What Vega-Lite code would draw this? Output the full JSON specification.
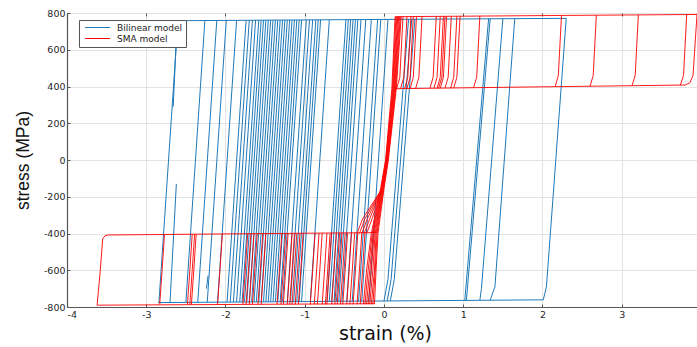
{
  "$schema": "https://vega.github.io/schema/vega-lite/v6.json",
  "width": 630,
  "height": 294,
  "autosize": {"type": "none"},
  "padding": {"left": 67, "top": 13, "right": 0, "bottom": 40},
  "background": "white",
  "config": {
    "font": "DejaVu Sans",
    "view": {"stroke": "#4d4d4d", "strokeWidth": 1},
    "axis": {
      "gridColor": "#e3e3e3",
      "gridWidth": 1,
      "domainColor": "#555555",
      "domainWidth": 1.2,
      "tickColor": "#555555",
      "tickSize": -3,
      "labelOverlap": false,
      "labelColor": "#262626",
      "labelFont": "DejaVu Sans",
      "labelFontSize": 9.5,
      "titleFontWeight": "normal",
      "titleColor": "#111111"
    }
  },
  "datasets": {
    "bilinear": [
      {"id":1,"k":0,"strain":-2.84,"stress":-776},{"id":1,"k":1,"strain":-2.60,"stress":758},
      {"id":2,"k":0,"strain":-2.70,"stress":-775},{"id":2,"k":1,"strain":-2.62,"stress":-130},
      {"id":3,"k":0,"strain":-2.66,"stress":290},{"id":3,"k":1,"strain":-2.61,"stress":758},
      {"id":4,"k":0,"strain":-2.50,"stress":-775},{"id":4,"k":1,"strain":-2.26,"stress":759},
      {"id":5,"k":0,"strain":-2.35,"stress":-774},{"id":5,"k":1,"strain":-2.11,"stress":759},
      {"id":6,"k":0,"strain":-2.23,"stress":-774},{"id":6,"k":1,"strain":-1.99,"stress":760},
      {"id":7,"k":0,"strain":-2.10,"stress":-773},{"id":7,"k":1,"strain":-1.86,"stress":760},
      {"id":8,"k":0,"strain":-1.98,"stress":-773},{"id":8,"k":1,"strain":-1.74,"stress":760},
      {"id":9,"k":0,"strain":-1.94,"stress":-773},{"id":9,"k":1,"strain":-1.70,"stress":760},
      {"id":10,"k":0,"strain":-1.90,"stress":-773},{"id":10,"k":1,"strain":-1.66,"stress":761},
      {"id":11,"k":0,"strain":-1.86,"stress":-773},{"id":11,"k":1,"strain":-1.62,"stress":761},
      {"id":12,"k":0,"strain":-1.82,"stress":-773},{"id":12,"k":1,"strain":-1.58,"stress":761},
      {"id":13,"k":0,"strain":-1.79,"stress":-772},{"id":13,"k":1,"strain":-1.55,"stress":761},
      {"id":14,"k":0,"strain":-1.76,"stress":-772},{"id":14,"k":1,"strain":-1.52,"stress":761},
      {"id":15,"k":0,"strain":-1.73,"stress":-772},{"id":15,"k":1,"strain":-1.49,"stress":761},
      {"id":16,"k":0,"strain":-1.70,"stress":-772},{"id":16,"k":1,"strain":-1.46,"stress":761},
      {"id":17,"k":0,"strain":-1.67,"stress":-772},{"id":17,"k":1,"strain":-1.43,"stress":761},
      {"id":18,"k":0,"strain":-1.64,"stress":-772},{"id":18,"k":1,"strain":-1.40,"stress":761},
      {"id":19,"k":0,"strain":-1.61,"stress":-772},{"id":19,"k":1,"strain":-1.37,"stress":761},
      {"id":20,"k":0,"strain":-1.58,"stress":-772},{"id":20,"k":1,"strain":-1.34,"stress":761},
      {"id":21,"k":0,"strain":-1.55,"stress":-772},{"id":21,"k":1,"strain":-1.31,"stress":761},
      {"id":22,"k":0,"strain":-1.52,"stress":-772},{"id":22,"k":1,"strain":-1.28,"stress":761},
      {"id":23,"k":0,"strain":-1.49,"stress":-772},{"id":23,"k":1,"strain":-1.25,"stress":762},
      {"id":24,"k":0,"strain":-1.46,"stress":-772},{"id":24,"k":1,"strain":-1.22,"stress":762},
      {"id":25,"k":0,"strain":-1.43,"stress":-771},{"id":25,"k":1,"strain":-1.19,"stress":762},
      {"id":26,"k":0,"strain":-1.40,"stress":-771},{"id":26,"k":1,"strain":-1.16,"stress":762},
      {"id":27,"k":0,"strain":-1.37,"stress":-771},{"id":27,"k":1,"strain":-1.13,"stress":762},
      {"id":28,"k":0,"strain":-1.34,"stress":-771},{"id":28,"k":1,"strain":-1.10,"stress":762},
      {"id":29,"k":0,"strain":-1.31,"stress":-771},{"id":29,"k":1,"strain":-1.07,"stress":762},
      {"id":30,"k":0,"strain":-1.28,"stress":-771},{"id":30,"k":1,"strain":-1.04,"stress":762},
      {"id":31,"k":0,"strain":-1.22,"stress":-771},{"id":31,"k":1,"strain":-0.98,"stress":762},
      {"id":32,"k":0,"strain":-1.18,"stress":-771},{"id":32,"k":1,"strain":-0.94,"stress":762},
      {"id":33,"k":0,"strain":-1.14,"stress":-771},{"id":33,"k":1,"strain":-0.90,"stress":762},
      {"id":34,"k":0,"strain":-1.10,"stress":-770},{"id":34,"k":1,"strain":-0.86,"stress":763},
      {"id":35,"k":0,"strain":-1.07,"stress":-770},{"id":35,"k":1,"strain":-0.83,"stress":763},
      {"id":36,"k":0,"strain":-1.04,"stress":-770},{"id":36,"k":1,"strain":-0.80,"stress":763},
      {"id":37,"k":0,"strain":-0.93,"stress":-770},{"id":37,"k":1,"strain":-0.69,"stress":763},
      {"id":38,"k":0,"strain":-0.72,"stress":-769},{"id":38,"k":1,"strain":-0.48,"stress":764},
      {"id":39,"k":0,"strain":-0.69,"stress":-769},{"id":39,"k":1,"strain":-0.45,"stress":764},
      {"id":40,"k":0,"strain":-0.66,"stress":-769},{"id":40,"k":1,"strain":-0.42,"stress":764},
      {"id":41,"k":0,"strain":-0.63,"stress":-769},{"id":41,"k":1,"strain":-0.39,"stress":764},
      {"id":42,"k":0,"strain":-0.60,"stress":-769},{"id":42,"k":1,"strain":-0.36,"stress":764},
      {"id":43,"k":0,"strain":-0.57,"stress":-769},{"id":43,"k":1,"strain":-0.33,"stress":764},
      {"id":44,"k":0,"strain":-0.53,"stress":-769},{"id":44,"k":1,"strain":-0.29,"stress":764},
      {"id":45,"k":0,"strain":-0.47,"stress":-768},{"id":45,"k":1,"strain":-0.23,"stress":764},
      {"id":46,"k":0,"strain":-0.40,"stress":-768},{"id":46,"k":1,"strain":-0.16,"stress":764},
      {"id":47,"k":0,"strain":-0.32,"stress":-768},{"id":47,"k":1,"strain":-0.08,"stress":765},
      {"id":48,"k":0,"strain":-0.28,"stress":-768},{"id":48,"k":1,"strain":-0.04,"stress":765},
      {"id":49,"k":0,"strain":-0.19,"stress":-768},{"id":49,"k":1,"strain":0.05,"stress":765},
      {"id":50,"k":0,"strain":0.00,"stress":-767},{"id":50,"k":1,"strain":0.05,"stress":-650},{"id":50,"k":2,"strain":0.31,"stress":766},
      {"id":51,"k":0,"strain":0.04,"stress":-767},{"id":51,"k":1,"strain":0.09,"stress":-650},{"id":51,"k":2,"strain":0.35,"stress":766},
      {"id":52,"k":0,"strain":0.08,"stress":-767},{"id":52,"k":1,"strain":0.13,"stress":-650},{"id":52,"k":2,"strain":0.39,"stress":766},
      {"id":53,"k":0,"strain":1.02,"stress":-764},{"id":53,"k":1,"strain":1.32,"stress":768},
      {"id":54,"k":0,"strain":1.04,"stress":-764},{"id":54,"k":1,"strain":1.34,"stress":769},
      {"id":55,"k":0,"strain":1.21,"stress":-763},{"id":55,"k":1,"strain":1.23,"stress":-700},{"id":55,"k":2,"strain":1.50,"stress":769},
      {"id":56,"k":0,"strain":1.34,"stress":-763},{"id":56,"k":1,"strain":1.40,"stress":-690},{"id":56,"k":2,"strain":1.65,"stress":769},
      {"id":57,"k":0,"strain":2.01,"stress":-761},{"id":57,"k":1,"strain":2.05,"stress":-690},{"id":57,"k":2,"strain":2.30,"stress":771},
      {"id":58,"k":0,"strain":-2.62,"stress":758},{"id":58,"k":1,"strain":2.30,"stress":771},
      {"id":59,"k":0,"strain":-2.85,"stress":-776},{"id":59,"k":1,"strain":2.01,"stress":-761},
      {"id":60,"k":0,"strain":-2.24,"stress":-700},{"id":60,"k":1,"strain":-2.22,"stress":-630}
    ],
    "sma": [
      {"id":1,"k":0,"strain":0.14,"stress":780},{"id":1,"k":1,"strain":3.95,"stress":792},
      {"id":2,"k":0,"strain":0.12,"stress":388},{"id":2,"k":1,"strain":3.80,"stress":408},
      {"id":3,"k":0,"strain":3.95,"stress":792},{"id":3,"k":1,"strain":3.90,"stress":460},{"id":3,"k":2,"strain":3.86,"stress":420},{"id":3,"k":3,"strain":3.80,"stress":408},
      {"id":4,"k":0,"strain":0.24,"stress":780},{"id":4,"k":1,"strain":0.20,"stress":450},{"id":4,"k":2,"strain":0.16,"stress":388},
      {"id":5,"k":0,"strain":0.29,"stress":780},{"id":5,"k":1,"strain":0.25,"stress":450},{"id":5,"k":2,"strain":0.21,"stress":389},
      {"id":6,"k":0,"strain":0.34,"stress":781},{"id":6,"k":1,"strain":0.30,"stress":450},{"id":6,"k":2,"strain":0.26,"stress":389},
      {"id":7,"k":0,"strain":0.37,"stress":781},{"id":7,"k":1,"strain":0.33,"stress":450},{"id":7,"k":2,"strain":0.29,"stress":389},
      {"id":8,"k":0,"strain":0.41,"stress":781},{"id":8,"k":1,"strain":0.37,"stress":450},{"id":8,"k":2,"strain":0.33,"stress":389},
      {"id":9,"k":0,"strain":0.48,"stress":781},{"id":9,"k":1,"strain":0.44,"stress":450},{"id":9,"k":2,"strain":0.40,"stress":390},
      {"id":10,"k":0,"strain":0.66,"stress":782},{"id":10,"k":1,"strain":0.62,"stress":450},{"id":10,"k":2,"strain":0.58,"stress":390},
      {"id":11,"k":0,"strain":0.71,"stress":782},{"id":11,"k":1,"strain":0.67,"stress":450},{"id":11,"k":2,"strain":0.63,"stress":390},
      {"id":12,"k":0,"strain":0.75,"stress":782},{"id":12,"k":1,"strain":0.71,"stress":450},{"id":12,"k":2,"strain":0.67,"stress":390},
      {"id":13,"k":0,"strain":0.77,"stress":782},{"id":13,"k":1,"strain":0.73,"stress":450},{"id":13,"k":2,"strain":0.69,"stress":391},
      {"id":14,"k":0,"strain":0.79,"stress":782},{"id":14,"k":1,"strain":0.75,"stress":450},{"id":14,"k":2,"strain":0.71,"stress":391},
      {"id":15,"k":0,"strain":0.85,"stress":782},{"id":15,"k":1,"strain":0.81,"stress":450},{"id":15,"k":2,"strain":0.77,"stress":391},
      {"id":16,"k":0,"strain":0.92,"stress":782},{"id":16,"k":1,"strain":0.88,"stress":450},{"id":16,"k":2,"strain":0.84,"stress":391},
      {"id":17,"k":0,"strain":0.96,"stress":783},{"id":17,"k":1,"strain":0.92,"stress":450},{"id":17,"k":2,"strain":0.88,"stress":392},
      {"id":18,"k":0,"strain":1.21,"stress":784},{"id":18,"k":1,"strain":1.17,"stress":450},{"id":18,"k":2,"strain":1.13,"stress":393},
      {"id":19,"k":0,"strain":2.24,"stress":787},{"id":19,"k":1,"strain":2.20,"stress":460},{"id":19,"k":2,"strain":2.16,"stress":399},
      {"id":20,"k":0,"strain":2.68,"stress":788},{"id":20,"k":1,"strain":2.64,"stress":460},{"id":20,"k":2,"strain":2.60,"stress":401},
      {"id":21,"k":0,"strain":3.21,"stress":790},{"id":21,"k":1,"strain":3.17,"stress":460},{"id":21,"k":2,"strain":3.13,"stress":404},
      {"id":22,"k":0,"strain":3.82,"stress":792},{"id":22,"k":1,"strain":3.78,"stress":460},{"id":22,"k":2,"strain":3.74,"stress":407},
      {"id":23,"k":0,"strain":-3.48,"stress":-408},{"id":23,"k":1,"strain":-0.08,"stress":-395},
      {"id":24,"k":0,"strain":-3.62,"stress":-790},{"id":24,"k":1,"strain":-0.12,"stress":-782},
      {"id":25,"k":0,"strain":-3.62,"stress":-790},{"id":25,"k":1,"strain":-3.58,"stress":-600},{"id":25,"k":2,"strain":-3.55,"stress":-430},{"id":25,"k":3,"strain":-3.52,"stress":-412},{"id":25,"k":4,"strain":-3.48,"stress":-408},
      {"id":26,"k":0,"strain":-0.26,"stress":-785},{"id":26,"k":1,"strain":-0.22,"stress":-600},{"id":26,"k":2,"strain":-0.160,"stress":-400},{"id":26,"k":3,"strain":-0.040,"stress":-150},{"id":26,"k":4,"strain":0.020,"stress":0},{"id":26,"k":5,"strain":0.100,"stress":390},{"id":26,"k":6,"strain":0.140,"stress":780},
      {"id":27,"k":0,"strain":-0.24,"stress":-785},{"id":27,"k":1,"strain":-0.20,"stress":-600},{"id":27,"k":2,"strain":-0.148,"stress":-400},{"id":27,"k":3,"strain":-0.034,"stress":-150},{"id":27,"k":4,"strain":0.025,"stress":0},{"id":27,"k":5,"strain":0.108,"stress":390},{"id":27,"k":6,"strain":0.151,"stress":780},
      {"id":28,"k":0,"strain":-0.22,"stress":-785},{"id":28,"k":1,"strain":-0.18,"stress":-600},{"id":28,"k":2,"strain":-0.136,"stress":-400},{"id":28,"k":3,"strain":-0.028,"stress":-150},{"id":28,"k":4,"strain":0.030,"stress":0},{"id":28,"k":5,"strain":0.116,"stress":390},{"id":28,"k":6,"strain":0.162,"stress":780},
      {"id":29,"k":0,"strain":-0.20,"stress":-785},{"id":29,"k":1,"strain":-0.16,"stress":-600},{"id":29,"k":2,"strain":-0.124,"stress":-400},{"id":29,"k":3,"strain":-0.022,"stress":-150},{"id":29,"k":4,"strain":0.035,"stress":0},{"id":29,"k":5,"strain":0.124,"stress":390},{"id":29,"k":6,"strain":0.173,"stress":780},
      {"id":30,"k":0,"strain":-0.18,"stress":-785},{"id":30,"k":1,"strain":-0.14,"stress":-600},{"id":30,"k":2,"strain":-0.112,"stress":-400},{"id":30,"k":3,"strain":-0.016,"stress":-150},{"id":30,"k":4,"strain":0.040,"stress":0},{"id":30,"k":5,"strain":0.132,"stress":390},{"id":30,"k":6,"strain":0.184,"stress":780},
      {"id":31,"k":0,"strain":-0.16,"stress":-785},{"id":31,"k":1,"strain":-0.12,"stress":-600},{"id":31,"k":2,"strain":-0.100,"stress":-400},{"id":31,"k":3,"strain":-0.010,"stress":-150},{"id":31,"k":4,"strain":0.045,"stress":0},{"id":31,"k":5,"strain":0.140,"stress":390},{"id":31,"k":6,"strain":0.195,"stress":780},
      {"id":32,"k":0,"strain":-0.14,"stress":-785},{"id":32,"k":1,"strain":-0.11,"stress":-600},{"id":32,"k":2,"strain":-0.088,"stress":-400},{"id":32,"k":3,"strain":-0.004,"stress":-150},{"id":32,"k":4,"strain":0.050,"stress":0},{"id":32,"k":5,"strain":0.148,"stress":390},{"id":32,"k":6,"strain":0.206,"stress":780},
      {"id":33,"k":0,"strain":-0.12,"stress":-785},{"id":33,"k":1,"strain":-0.10,"stress":-600},{"id":33,"k":2,"strain":-0.076,"stress":-400},{"id":33,"k":3,"strain":0.002,"stress":-150},{"id":33,"k":4,"strain":0.055,"stress":0},{"id":33,"k":5,"strain":0.156,"stress":390},{"id":33,"k":6,"strain":0.217,"stress":780},
      {"id":34,"k":0,"strain":-0.34,"stress":-400},{"id":34,"k":1,"strain":-0.27,"stress":-320},{"id":34,"k":2,"strain":-0.03,"stress":-160},
      {"id":35,"k":0,"strain":-0.31,"stress":-400},{"id":35,"k":1,"strain":-0.24,"stress":-320},{"id":35,"k":2,"strain":-0.03,"stress":-160},
      {"id":36,"k":0,"strain":-0.28,"stress":-400},{"id":36,"k":1,"strain":-0.21,"stress":-320},{"id":36,"k":2,"strain":-0.03,"stress":-160},
      {"id":37,"k":0,"strain":-0.25,"stress":-400},{"id":37,"k":1,"strain":-0.18,"stress":-320},{"id":37,"k":2,"strain":-0.03,"stress":-160},
      {"id":38,"k":0,"strain":-0.22,"stress":-400},{"id":38,"k":1,"strain":-0.15,"stress":-320},{"id":38,"k":2,"strain":-0.03,"stress":-160},
      {"id":39,"k":0,"strain":-2.83,"stress":-786},{"id":39,"k":1,"strain":-2.80,"stress":-600},{"id":39,"k":2,"strain":-2.77,"stress":-405},
      {"id":40,"k":0,"strain":-2.48,"stress":-786},{"id":40,"k":1,"strain":-2.45,"stress":-600},{"id":40,"k":2,"strain":-2.42,"stress":-404},
      {"id":41,"k":0,"strain":-2.45,"stress":-786},{"id":41,"k":1,"strain":-2.42,"stress":-600},{"id":41,"k":2,"strain":-2.39,"stress":-404},
      {"id":42,"k":0,"strain":-2.43,"stress":-786},{"id":42,"k":1,"strain":-2.40,"stress":-600},{"id":42,"k":2,"strain":-2.37,"stress":-404},
      {"id":43,"k":0,"strain":-2.10,"stress":-786},{"id":43,"k":1,"strain":-2.07,"stress":-600},{"id":43,"k":2,"strain":-2.04,"stress":-403},
      {"id":44,"k":0,"strain":-1.78,"stress":-786},{"id":44,"k":1,"strain":-1.75,"stress":-600},{"id":44,"k":2,"strain":-1.72,"stress":-402},
      {"id":45,"k":0,"strain":-1.74,"stress":-786},{"id":45,"k":1,"strain":-1.71,"stress":-600},{"id":45,"k":2,"strain":-1.68,"stress":-402},
      {"id":46,"k":0,"strain":-1.70,"stress":-786},{"id":46,"k":1,"strain":-1.67,"stress":-600},{"id":46,"k":2,"strain":-1.64,"stress":-402},
      {"id":47,"k":0,"strain":-1.66,"stress":-786},{"id":47,"k":1,"strain":-1.63,"stress":-600},{"id":47,"k":2,"strain":-1.60,"stress":-402},
      {"id":48,"k":0,"strain":-1.59,"stress":-786},{"id":48,"k":1,"strain":-1.56,"stress":-600},{"id":48,"k":2,"strain":-1.53,"stress":-401},
      {"id":49,"k":0,"strain":-1.55,"stress":-786},{"id":49,"k":1,"strain":-1.52,"stress":-600},{"id":49,"k":2,"strain":-1.49,"stress":-401},
      {"id":50,"k":0,"strain":-1.35,"stress":-786},{"id":50,"k":1,"strain":-1.32,"stress":-600},{"id":50,"k":2,"strain":-1.29,"stress":-400},
      {"id":51,"k":0,"strain":-1.30,"stress":-786},{"id":51,"k":1,"strain":-1.27,"stress":-600},{"id":51,"k":2,"strain":-1.24,"stress":-400},
      {"id":52,"k":0,"strain":-1.27,"stress":-786},{"id":52,"k":1,"strain":-1.24,"stress":-600},{"id":52,"k":2,"strain":-1.21,"stress":-400},
      {"id":53,"k":0,"strain":-1.22,"stress":-786},{"id":53,"k":1,"strain":-1.19,"stress":-600},{"id":53,"k":2,"strain":-1.16,"stress":-400},
      {"id":54,"k":0,"strain":-1.19,"stress":-786},{"id":54,"k":1,"strain":-1.16,"stress":-600},{"id":54,"k":2,"strain":-1.13,"stress":-400},
      {"id":55,"k":0,"strain":-1.16,"stress":-786},{"id":55,"k":1,"strain":-1.13,"stress":-600},{"id":55,"k":2,"strain":-1.10,"stress":-400},
      {"id":56,"k":0,"strain":-1.12,"stress":-786},{"id":56,"k":1,"strain":-1.09,"stress":-600},{"id":56,"k":2,"strain":-1.06,"stress":-399},
      {"id":57,"k":0,"strain":-1.08,"stress":-786},{"id":57,"k":1,"strain":-1.05,"stress":-600},{"id":57,"k":2,"strain":-1.02,"stress":-399},
      {"id":58,"k":0,"strain":-0.93,"stress":-786},{"id":58,"k":1,"strain":-0.90,"stress":-600},{"id":58,"k":2,"strain":-0.87,"stress":-399},
      {"id":59,"k":0,"strain":-0.88,"stress":-786},{"id":59,"k":1,"strain":-0.85,"stress":-600},{"id":59,"k":2,"strain":-0.82,"stress":-399},
      {"id":60,"k":0,"strain":-0.84,"stress":-786},{"id":60,"k":1,"strain":-0.81,"stress":-600},{"id":60,"k":2,"strain":-0.78,"stress":-398},
      {"id":61,"k":0,"strain":-0.78,"stress":-786},{"id":61,"k":1,"strain":-0.75,"stress":-600},{"id":61,"k":2,"strain":-0.72,"stress":-398},
      {"id":62,"k":0,"strain":-0.74,"stress":-786},{"id":62,"k":1,"strain":-0.71,"stress":-600},{"id":62,"k":2,"strain":-0.68,"stress":-398},
      {"id":63,"k":0,"strain":-0.72,"stress":-786},{"id":63,"k":1,"strain":-0.69,"stress":-600},{"id":63,"k":2,"strain":-0.66,"stress":-398},
      {"id":64,"k":0,"strain":-0.66,"stress":-786},{"id":64,"k":1,"strain":-0.63,"stress":-600},{"id":64,"k":2,"strain":-0.60,"stress":-398},
      {"id":65,"k":0,"strain":-0.62,"stress":-786},{"id":65,"k":1,"strain":-0.59,"stress":-600},{"id":65,"k":2,"strain":-0.56,"stress":-397},
      {"id":66,"k":0,"strain":-0.59,"stress":-786},{"id":66,"k":1,"strain":-0.56,"stress":-600},{"id":66,"k":2,"strain":-0.53,"stress":-397},
      {"id":67,"k":0,"strain":-0.55,"stress":-786},{"id":67,"k":1,"strain":-0.52,"stress":-600},{"id":67,"k":2,"strain":-0.49,"stress":-397},
      {"id":68,"k":0,"strain":-0.52,"stress":-786},{"id":68,"k":1,"strain":-0.49,"stress":-600},{"id":68,"k":2,"strain":-0.46,"stress":-397},
      {"id":69,"k":0,"strain":-0.47,"stress":-786},{"id":69,"k":1,"strain":-0.44,"stress":-600},{"id":69,"k":2,"strain":-0.41,"stress":-397},
      {"id":70,"k":0,"strain":-0.43,"stress":-786},{"id":70,"k":1,"strain":-0.40,"stress":-600},{"id":70,"k":2,"strain":-0.37,"stress":-396},
      {"id":71,"k":0,"strain":-0.39,"stress":-786},{"id":71,"k":1,"strain":-0.36,"stress":-600},{"id":71,"k":2,"strain":-0.33,"stress":-396},
      {"id":72,"k":0,"strain":-0.34,"stress":-786},{"id":72,"k":1,"strain":-0.31,"stress":-600},{"id":72,"k":2,"strain":-0.28,"stress":-396},
      {"id":73,"k":0,"strain":-0.30,"stress":-786},{"id":73,"k":1,"strain":-0.27,"stress":-600},{"id":73,"k":2,"strain":-0.24,"stress":-396}
    ]
  },
  "encoding": {
    "y": {
      "field": "stress", "type": "quantitative",
      "scale": {"domain": [-800, 800], "nice": false, "zero": false},
      "axis": {
        "values": [-800, -600, -400, -200, 0, 200, 400, 600, 800],
        "tickCount": 9,
        "labelExpr": "datum.value < 0 ? '-' + abs(datum.value) : '' + datum.value",
        "labelPadding": 5,
        "title": "stress (MPa)",
        "titleFontSize": 17.5,
        "titleFont": "Liberation Sans",
        "titleBaseline": "alphabetic",
        "titleAlign": "center",
        "titleX": -39,
        "titleY": 147
      }
    },
    "detail": {"field": "id", "type": "nominal"},
    "order": {"field": "k", "type": "quantitative"}
  },
  "resolve": {"axis": {"x": "independent"}},
  "layer": [
    {
      "data": {"name": "bilinear"},
      "mark": {"type": "line", "strokeWidth": 1, "clip": true},
      "encoding": {
        "x": {
          "field": "strain", "type": "quantitative",
          "scale": {"domain": [-4, 3.95], "nice": false, "zero": false},
          "axis": {
            "orient": "bottom",
            "values": [-4, -3, -2, -1, 0, 1, 2, 3],
            "labelExpr": "datum.value < 0 ? '-' + abs(datum.value) : '' + datum.value",
            "labelPadding": 5,
            "title": "strain (%)",
            "titleFontSize": 19,
            "titleFont": "DejaVu Sans",
            "titleBaseline": "alphabetic",
            "titleX": 318,
            "titleY": 32
          }
        },
        "color": {
          "datum": "Bilinear model", "type": "nominal",
          "scale": {"domain": ["Bilinear model", "SMA model"], "range": ["#1f78b8", "#ff0000"]},
          "legend": {
            "title": null,
            "orient": "none",
            "legendX": 12,
            "legendY": 7,
            "symbolType": "M-5,0H5",
            "symbolSize": 25,
            "symbolOffset": 11,
            "symbolStrokeWidth": 1,
            "labelFont": "DejaVu Sans",
            "labelFontSize": 9,
            "labelColor": "#222222",
            "labelOffset": 15,
            "fillColor": "white",
            "strokeColor": "#555555",
            "padding": 3,
            "rowPadding": 1
          }
        }
      }
    },
    {
      "data": {"name": "sma"},
      "mark": {"type": "line", "strokeWidth": 0.9, "clip": true},
      "encoding": {
        "x": {
          "field": "strain", "type": "quantitative",
          "axis": {"orient": "top", "values": [-4, -3, -2, -1, 0, 1, 2, 3], "labels": false, "title": null, "grid": false, "domain": false, "tickSize": -3}
        },
        "color": {"datum": "SMA model", "type": "nominal"}
      }
    }
  ]
}
